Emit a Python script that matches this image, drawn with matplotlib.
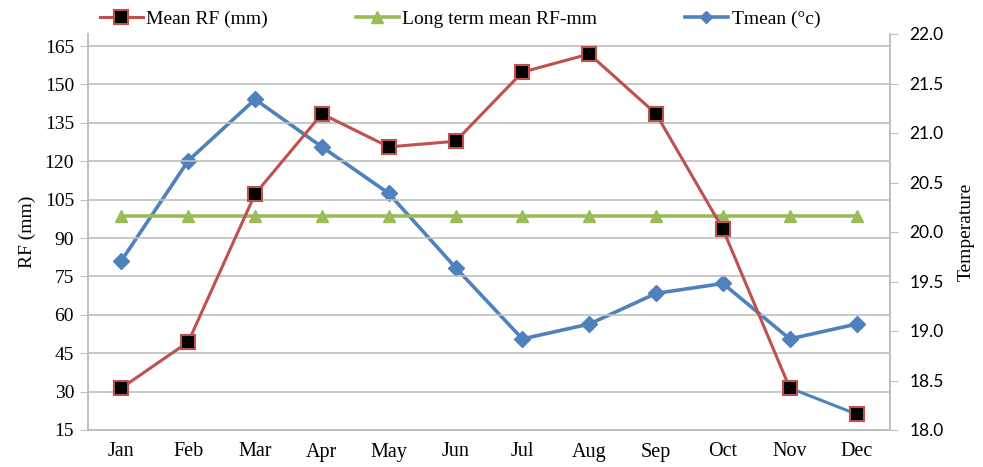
import matplotlib
matplotlib.use("Agg")
import matplotlib.pyplot as plt
from matplotlib.lines import Line2D

months = ["Jan", "Feb", "Mar", "Apr", "May", "Jun", "Jul", "Aug", "Sep", "Oct", "Nov", "Dec"]
mean_rf = [31.4, 49.4, 107.2, 138.5, 125.6, 127.8, 154.8, 161.9, 138.5, 93.5, 31.4, 21.2]
long_term_rf = [98.6] * 12
tmean = [19.71, 20.72, 21.34, 20.86, 20.39, 19.64, 18.92, 19.07, 19.38, 19.48, 18.92, 19.07]
rf_ticks = list(range(15, 166, 15))
t_ticks = [18.0, 18.5, 19.0, 19.5, 20.0, 20.5, 21.0, 21.5, 22.0]

red = "#C0504D"
green = "#9BBB59"
blue = "#4F81BD"
grid_col = "#BFBFBF"
serif = "Liberation Serif"

fig = plt.figure(figsize=(9.83, 4.67), dpi=100)
ax = fig.add_axes([88 / 983, 37 / 467, 802 / 983, 396 / 467])
ax2 = ax.twinx()

x = list(range(len(months)))

# Tmean on the secondary axis
ax2.plot(x, tmean, color=blue, lw=2.6, marker="D", ms=8, mfc=blue, mec=blue, zorder=3)

# rainfall series on the primary axis
ax.plot(x, long_term_rf, color=green, lw=2.6, marker="^", ms=9, mfc=green, mec=green, zorder=3)
ax.plot(x[:-1], mean_rf[:-1], color=red, lw=2.2, zorder=4)
ax.plot(x[-2:], mean_rf[-2:], color=blue, lw=2.2, zorder=4)
ax.plot(x, mean_rf, ls="none", marker="s", ms=10, mfc="black", mec=red, mew=1.5, zorder=5)

ax.set_zorder(ax2.get_zorder() + 1)
ax.patch.set_visible(False)

ax.set_xlim(-0.5, 11.5)
ax.set_ylim(15, 169.7)
ax.set_yticks(rf_ticks)
ax.set_xticks(x)
ax.set_xticklabels(months, fontsize=14.5, family=serif)
ax.tick_params(axis="x", length=0, pad=9)
ax.tick_params(axis="y", length=6, color=grid_col, labelsize=14, pad=4)
for lab in ax.get_yticklabels():
    lab.set_family(serif)
ax.yaxis.grid(True, color=grid_col, lw=1.2)
ax.set_axisbelow(True)
ax.set_ylabel("RF (mm)", fontsize=14, family=serif, labelpad=6)

ax2.set_ylim(18.0, 22.0)
ax2.set_yticks(t_ticks)
ax2.set_yticklabels([f"{t:.1f}" for t in t_ticks], fontsize=12.5, family="Lato")
ax2.tick_params(axis="y", length=6, color=grid_col, pad=8)
ax2.set_ylabel("Temperature", fontsize=14, family=serif, labelpad=10)

for a in (ax, ax2):
    a.spines["top"].set_visible(False)
    for side in ("left", "right", "bottom"):
        a.spines[side].set_color(grid_col)
        a.spines[side].set_linewidth(1.2)

handles = [
    Line2D([], [], color=red, lw=2.2, marker="s", ms=10, mfc="black", mec=red, mew=1.5),
    Line2D([], [], color=green, lw=2.6, marker="^", ms=9, mfc=green, mec=green),
    Line2D([], [], color=blue, lw=2.6, marker="D", ms=6, mfc=blue, mec=blue),
]
labels = ["Mean RF (mm)", "Long term mean RF-mm", "Tmean (°c)"]
fig.legend(handles, labels, loc="center", bbox_to_anchor=(460 / 983, 1 - 19 / 467),
           ncol=3, frameon=False, prop={"family": serif, "size": 14},
           handlelength=2.2, handletextpad=0.2, columnspacing=4.5)

fig.savefig("out.png", dpi=100)
